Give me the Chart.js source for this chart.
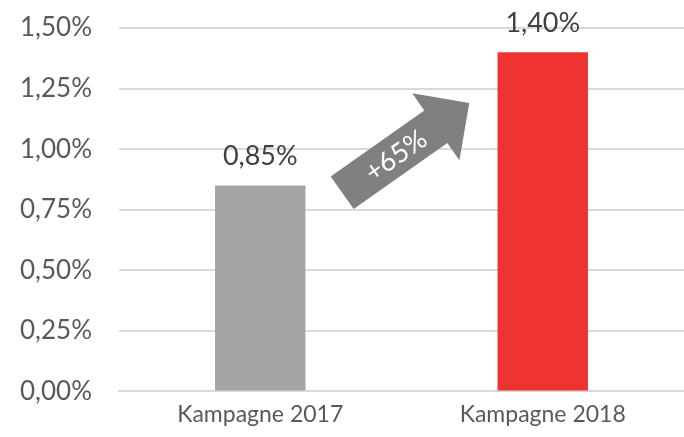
<!DOCTYPE html>
<html>
<head>
<meta charset="utf-8">
<script src="https://cdn.jsdelivr.net/npm/chart.js@4"></script>
<style>
  html, body { margin: 0; padding: 0; background: #fff; }
  #wrap { width: 684px; height: 437px; }
</style>
</head>
<body>
<div id="wrap"><canvas id="rate"></canvas></div>
<script>
const labels = ['Kampagne 2017', 'Kampagne 2018']
const values = [0.85, 1.40]
const barColors = ['#A5A5A5', '#EE3331']
const arrowText = '+65%'

const FONT = "Lato, 'Open Sans', sans-serif"
const fmt = v => v.toFixed(2).replace('.', ',') + '%'

// value labels above each bar
const valueLabels = {
  id: 'valueLabels',
  afterDatasetsDraw(chart) {
    const ctx = chart.ctx
    const meta = chart.getDatasetMeta(0)
    ctx.save()
    ctx.font = '27px ' + FONT
    ctx.fillStyle = '#404040'
    ctx.textAlign = 'center'
    ctx.textBaseline = 'middle'
    meta.data.forEach((bar, i) => {
      ctx.fillText(fmt(values[i]), bar.x, bar.y - 29)
    })
    ctx.restore()
  },
}

// growth arrow between the two bars
const growthArrow = {
  id: 'growthArrow',
  afterDatasetsDraw(chart) {
    const ctx = chart.ctx
    const x = chart.scales.x
    const y = chart.scales.y
    const x0 = x.getPixelForValue(0.29)
    const y0 = y.getPixelForValue(0.82)
    const x1 = x.getPixelForValue(0.74)
    const y1 = y.getPixelForValue(1.19)
    const ang = Math.atan2(y1 - y0, x1 - x0)
    const len = Math.hypot(x1 - x0, y1 - y0)
    const bodyW = 40, headW = 82, headL = 41
    ctx.save()
    ctx.translate(x0, y0)
    ctx.rotate(ang)
    ctx.fillStyle = '#808080'
    ctx.beginPath()
    ctx.moveTo(0, -bodyW / 2)
    ctx.lineTo(len - headL, -bodyW / 2)
    ctx.lineTo(len - headL, -headW / 2)
    ctx.lineTo(len, 0)
    ctx.lineTo(len - headL, headW / 2)
    ctx.lineTo(len - headL, bodyW / 2)
    ctx.lineTo(0, bodyW / 2)
    ctx.closePath()
    ctx.fill()
    ctx.fillStyle = '#fff'
    ctx.font = '27px ' + FONT
    ctx.textAlign = 'center'
    ctx.textBaseline = 'middle'
    ctx.fillText(arrowText, (len - headL) / 2 + 8, 1)
    ctx.restore()
  },
}

new Chart(document.getElementById('rate').getContext('2d'), {
  type: 'bar',
  data: {
    labels,
    datasets: [{
      data: values,
      backgroundColor: barColors,
      barPercentage: 1,
      categoryPercentage: 0.32,
    }],
  },
  options: {
    responsive: true,
    maintainAspectRatio: false,
    animation: false,
    layout: { padding: { top: 28, left: 0, right: 0, bottom: 0 } },
    plugins: {
      legend: { display: false },
      tooltip: { enabled: false },
    },
    scales: {
      x: {
        grid: { display: false, drawTicks: false },
        border: { display: true, color: '#D9D9D9', width: 2 },
        ticks: { color: '#595959', font: { family: FONT, size: 23 }, padding: 9 },
      },
      y: {
        min: 0,
        max: 1.5,
        border: { display: false },
        grid: { color: '#D9D9D9', lineWidth: 2, drawTicks: false },
        ticks: {
          stepSize: 0.25,
          color: '#595959',
          font: { family: FONT, size: 26 },
          padding: 27,
          callback: v => fmt(v),
        },
        afterFit: scale => {
          scale.width = 119
          scale.paddingTop = 0
        },
      },
    },
  },
  plugins: [valueLabels, growthArrow],
})
</script>
</body>
</html>
